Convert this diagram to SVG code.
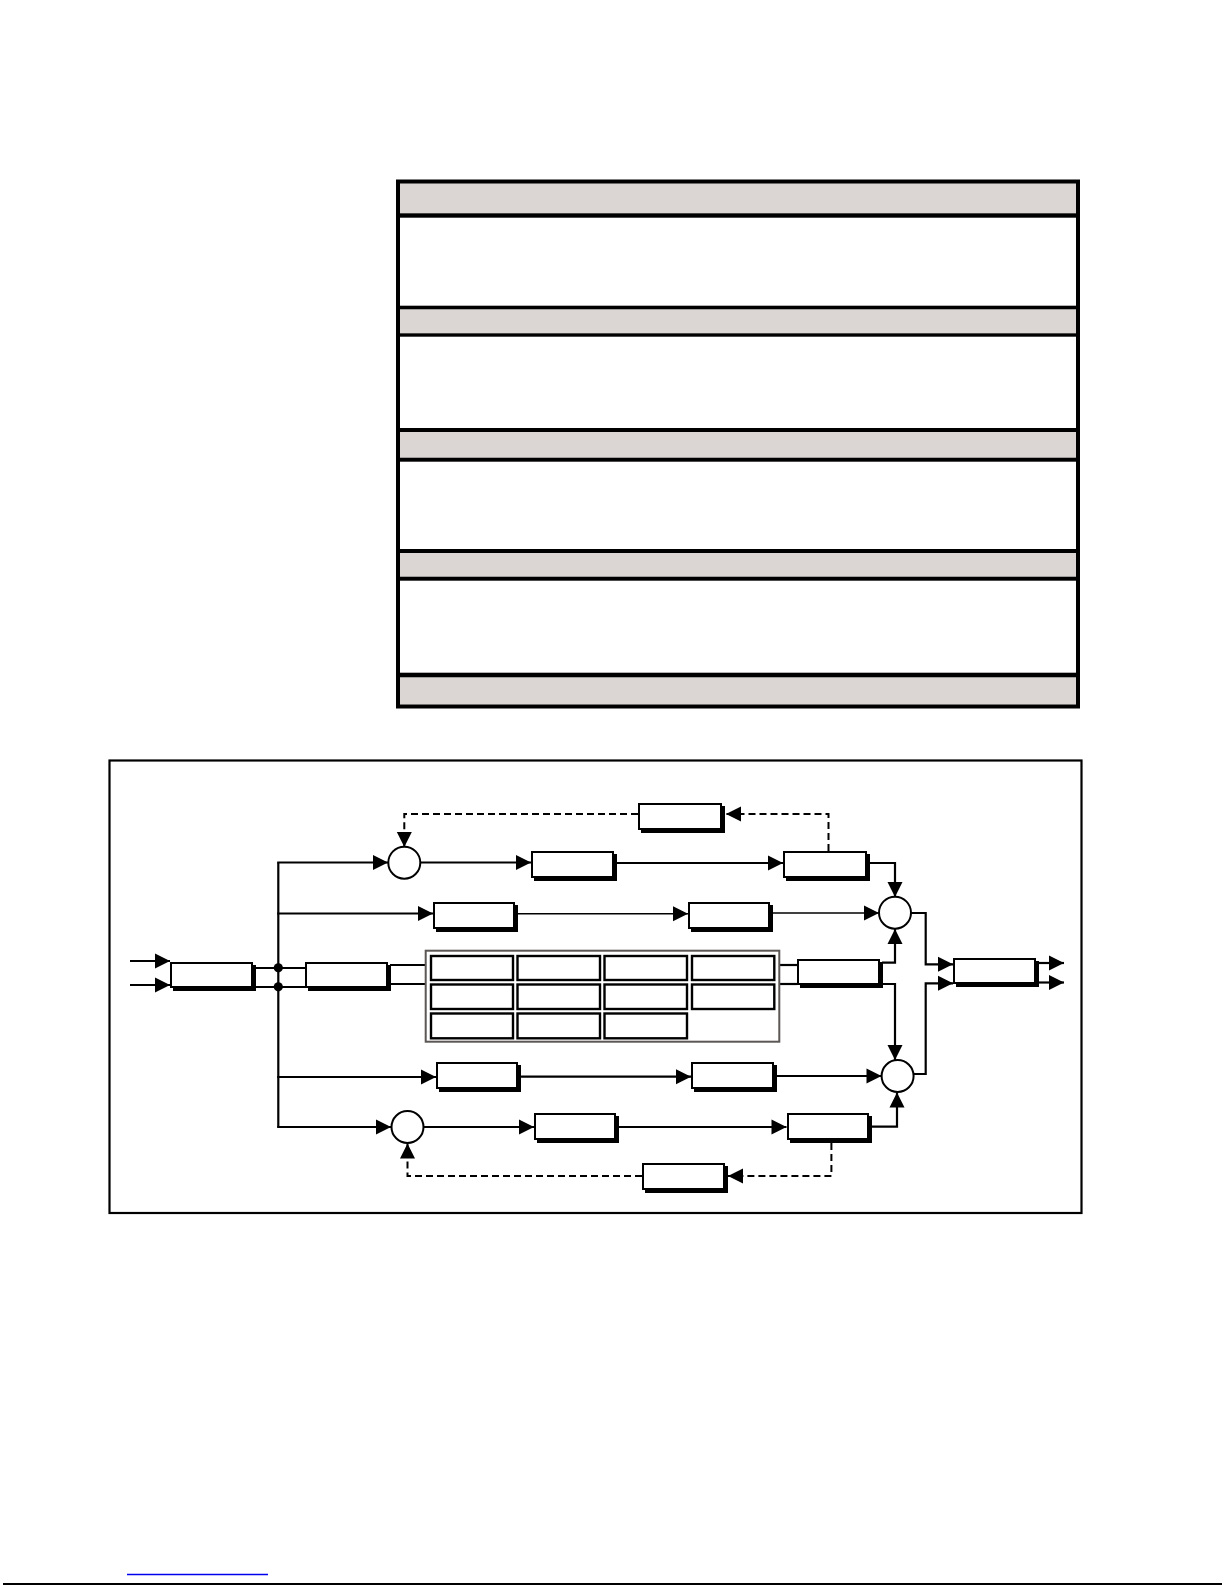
<svg xmlns="http://www.w3.org/2000/svg" width="1225" height="1585" viewBox="0 0 1225 1585">
<style>
.band{fill:#dbd6d3}
.sep{fill:#000}
.frame{fill:none;stroke:#000;stroke-width:2.2}
.shadow{fill:#000}
.box{fill:#fff;stroke:#000;stroke-width:2}
.cell{fill:#fff;stroke:#000;stroke-width:2.4}
.grid{fill:none;stroke:#5c5654;stroke-width:2}
.sum{fill:#fff;stroke:#000;stroke-width:2}
.ln{fill:none;stroke:#000;stroke-width:2.2}
.thin{fill:none;stroke:#000;stroke-width:1.4}
.dash{fill:none;stroke:#000;stroke-width:2;stroke-dasharray:7 4}
.dot{fill:#000}
</style>
<defs>
<marker id="ah" markerUnits="userSpaceOnUse" markerWidth="16" markerHeight="16" refX="15" refY="7.5" orient="auto" overflow="visible">
<path d="M0,0 L15,7.5 L0,15 z" fill="#000"/>
</marker>
</defs>
<rect width="1225" height="1585" fill="#fff"/>

<g id="table">
<rect class="band" x="400" y="183" width="676" height="30.5"/>
<rect class="band" x="400" y="309.3" width="676" height="24"/>
<rect class="band" x="400" y="432" width="676" height="25.7"/>
<rect class="band" x="400" y="553" width="676" height="23.7"/>
<rect class="band" x="400" y="677.3" width="676" height="27.4"/>
<rect class="sep" x="398" y="213.3" width="680" height="4.4"/>
<rect class="sep" x="398" y="305.7" width="680" height="3.6"/>
<rect class="sep" x="398" y="333.3" width="680" height="3.4"/>
<rect class="sep" x="398" y="428" width="680" height="4"/>
<rect class="sep" x="398" y="457.7" width="680" height="4"/>
<rect class="sep" x="398" y="549" width="680" height="4"/>
<rect class="sep" x="398" y="576.7" width="680" height="4"/>
<rect class="sep" x="398" y="672.7" width="680" height="4.6"/>
<rect x="398" y="181.5" width="680" height="525" fill="none" stroke="#000" stroke-width="4"/>
</g>

<g id="diagram-frame">
<rect class="frame" x="109.5" y="760.5" width="972" height="452.5"/>
</g>

<g id="connectors">
<line class="ln" x1="130" y1="961" x2="170" y2="961" marker-end="url(#ah)"/>
<line class="ln" x1="130" y1="985" x2="170" y2="985" marker-end="url(#ah)"/>
<line class="ln" x1="253" y1="968" x2="305" y2="968"/>
<line class="ln" x1="253" y1="987" x2="305" y2="987"/>
<line class="ln" x1="278.3" y1="862.5" x2="278.3" y2="1127.5"/>
<line class="ln" x1="277.2" y1="862.5" x2="388" y2="862.5" marker-end="url(#ah)"/>
<line class="ln" x1="277.2" y1="913.5" x2="433" y2="913.5" marker-end="url(#ah)"/>
<line class="ln" x1="277.2" y1="1077" x2="436" y2="1077" marker-end="url(#ah)"/>
<line class="ln" x1="277.2" y1="1127" x2="391" y2="1127" marker-end="url(#ah)"/>
<line class="ln" x1="390" y1="965" x2="426" y2="965"/>
<line class="ln" x1="390" y1="984" x2="426" y2="984"/>
<line class="ln" x1="779" y1="965" x2="797" y2="965"/>
<line class="ln" x1="779" y1="984" x2="797" y2="984"/>
<line class="ln" x1="420.5" y1="862.5" x2="531" y2="862.5" marker-end="url(#ah)"/>
<line class="ln" x1="617" y1="863" x2="783" y2="863" marker-end="url(#ah)"/>
<polyline class="ln" points="869,863 895,863 895,897" marker-end="url(#ah)"/>
<polyline class="dash" points="828.5,851 828.5,814 726,814" marker-end="url(#ah)"/>
<polyline class="dash" points="638,814 404.3,814 404.3,847" marker-end="url(#ah)"/>
<line class="thin" x1="518" y1="913.7" x2="688" y2="913.7" marker-end="url(#ah)"/>
<line class="thin" x1="773" y1="913" x2="879" y2="913" marker-end="url(#ah)"/>
<polyline class="ln" points="882,962.7 895,962.7 895,929" marker-end="url(#ah)"/>
<polyline class="ln" points="882,984 895,984 895,1060" marker-end="url(#ah)"/>
<polyline class="ln" points="911,913 925.7,913 925.7,964.3 953,964.3" marker-end="url(#ah)"/>
<polyline class="ln" points="913.5,1074 925.7,1074 925.7,983.3 953,983.3" marker-end="url(#ah)"/>
<line class="ln" x1="1037" y1="963" x2="1064" y2="963" marker-end="url(#ah)"/>
<line class="ln" x1="1037" y1="982.5" x2="1064" y2="982.5" marker-end="url(#ah)"/>
<line class="ln" x1="520" y1="1076.7" x2="691" y2="1076.7" marker-end="url(#ah)"/>
<line class="ln" x1="777" y1="1076" x2="881.5" y2="1076" marker-end="url(#ah)"/>
<line class="ln" x1="423.5" y1="1127" x2="534" y2="1127" marker-end="url(#ah)"/>
<line class="ln" x1="619" y1="1127" x2="786.5" y2="1127" marker-end="url(#ah)"/>
<polyline class="ln" points="872,1126.7 897,1126.7 897,1092.5" marker-end="url(#ah)"/>
<polyline class="dash" points="831.4,1143 831.4,1176 728,1176" marker-end="url(#ah)"/>
<polyline class="dash" points="642,1176 407.5,1176 407.5,1143.5" marker-end="url(#ah)"/>
<circle class="dot" cx="278.3" cy="967.8" r="4.6"/>
<circle class="dot" cx="278.3" cy="986.8" r="4.6"/>
</g>

<g id="box-in">
<rect class="shadow" x="173" y="965" width="83" height="26"/>
<rect class="box" x="171" y="963" width="81" height="24"/>
</g>
<g id="box-split">
<rect class="shadow" x="308" y="965" width="83" height="26"/>
<rect class="box" x="306" y="963" width="81" height="24"/>
</g>
<g id="sum-top">
<circle class="sum" cx="404.3" cy="862.7" r="16"/>
</g>
<g id="box-top-1">
<rect class="shadow" x="534" y="854" width="83" height="27"/>
<rect class="box" x="532" y="852" width="81" height="25"/>
</g>
<g id="box-top-2">
<rect class="shadow" x="786" y="854" width="84" height="27"/>
<rect class="box" x="784" y="852" width="82" height="25"/>
</g>
<g id="box-fb-top">
<rect class="shadow" x="641" y="806" width="84" height="27"/>
<rect class="box" x="639" y="804" width="82" height="25"/>
</g>
<g id="box-row2-1">
<rect class="shadow" x="436" y="905" width="82" height="27"/>
<rect class="box" x="434" y="903" width="80" height="25"/>
</g>
<g id="box-row2-2">
<rect class="shadow" x="691" y="905" width="82" height="27"/>
<rect class="box" x="689" y="903" width="80" height="25"/>
</g>
<g id="sum-upper">
<circle class="sum" cx="895" cy="912.7" r="16"/>
</g>
<g id="grid">
<rect class="grid" x="425.7" y="950.7" width="353.6" height="91"/>
<rect class="cell" x="431" y="956" width="82" height="24"/>
<rect class="cell" x="517.5" y="956" width="82.5" height="24"/>
<rect class="cell" x="604.5" y="956" width="82.5" height="24"/>
<rect class="cell" x="692" y="956" width="82.3" height="24"/>
<rect class="cell" x="431" y="984.5" width="82" height="24.5"/>
<rect class="cell" x="517.5" y="984.5" width="82.5" height="24.5"/>
<rect class="cell" x="604.5" y="984.5" width="82.5" height="24.5"/>
<rect class="cell" x="692" y="984.5" width="82.3" height="24.5"/>
<rect class="cell" x="431" y="1013.5" width="82" height="24.8"/>
<rect class="cell" x="517.5" y="1013.5" width="82.5" height="24.8"/>
<rect class="cell" x="604.5" y="1013.5" width="82.5" height="24.8"/>
</g>
<g id="box-merge">
<rect class="shadow" x="800" y="962" width="83" height="26"/>
<rect class="box" x="798" y="960" width="81" height="24"/>
</g>
<g id="box-out">
<rect class="shadow" x="956" y="961" width="83" height="26"/>
<rect class="box" x="954" y="959" width="81" height="24"/>
</g>
<g id="box-row4-1">
<rect class="shadow" x="439" y="1065" width="82" height="27"/>
<rect class="box" x="437" y="1063" width="80" height="25"/>
</g>
<g id="box-row4-2">
<rect class="shadow" x="694" y="1065" width="83" height="27"/>
<rect class="box" x="692" y="1063" width="81" height="25"/>
</g>
<g id="sum-lower">
<circle class="sum" cx="897.6" cy="1076" r="16"/>
</g>
<g id="sum-bottom">
<circle class="sum" cx="407.5" cy="1127" r="16"/>
</g>
<g id="box-bot-1">
<rect class="shadow" x="537" y="1116" width="82" height="27"/>
<rect class="box" x="535" y="1114" width="80" height="25"/>
</g>
<g id="box-bot-2">
<rect class="shadow" x="790" y="1116" width="82" height="27"/>
<rect class="box" x="788" y="1114" width="80" height="25"/>
</g>
<g id="box-fb-bot">
<rect class="shadow" x="645" y="1166" width="83" height="27"/>
<rect class="box" x="643" y="1164" width="81" height="25"/>
</g>

<g id="page-footer">
<line x1="127" y1="1574.5" x2="268" y2="1574.5" stroke="#0000ee" stroke-width="1.6"/>
<line x1="3" y1="1584" x2="1222" y2="1584" stroke="#000" stroke-width="2"/>
</g>
</svg>
